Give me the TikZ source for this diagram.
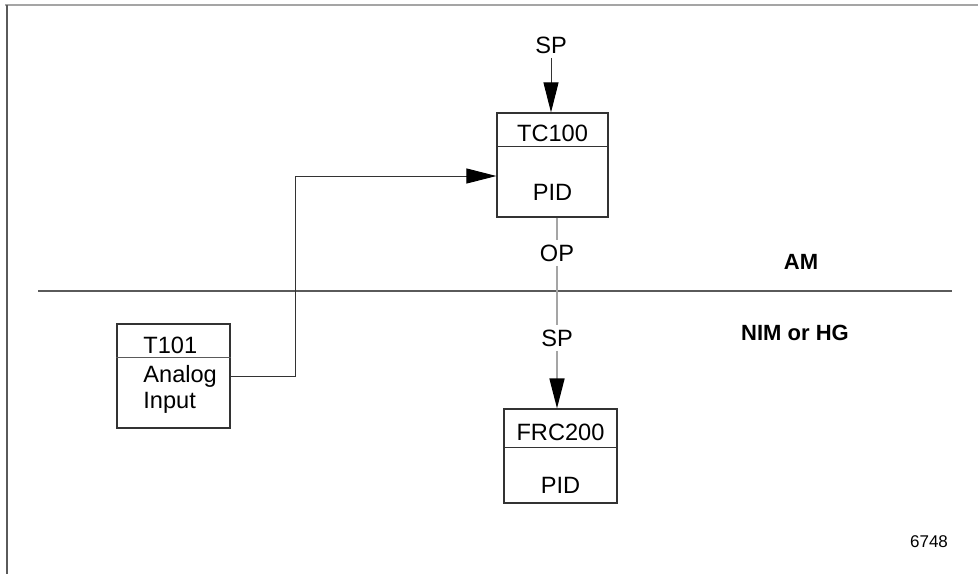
\documentclass[tikz,border=0pt]{standalone}
\usepackage{fontspec}
\setmainfont{Liberation Sans}
\usetikzlibrary{arrows.meta, positioning}
\definecolor{LN}{RGB}{51,51,51}
\definecolor{GL}{RGB}{165,165,165}
\definecolor{FR}{RGB}{90,90,90}

\begin{document}
\begin{tikzpicture}[x=0.5pt, y=-0.5pt,
  blk/.style={draw=LN, line width=0.6pt, inner sep=0pt},
  lbl/.style={font=\fontsize{11.8}{13}\selectfont, inner sep=2pt},
  zone/.style={font=\bfseries\fontsize{11}{13}\selectfont},
  tip/.style={-{Triangle[length=15pt, width=7.5pt, color=black]}},
  sig/.style={draw=LN, line width=0.5pt},
  opsig/.style={draw=GL, line width=0.8pt}
]
\useasboundingbox (0,0) rectangle (978,574);
% frame and AM / NIM split
\draw[GL, line width=0.8pt] (5,5) -- (978,5);
\draw[FR, line width=0.8pt] (7,5) -- (7,574);
\draw[FR, line width=0.6pt] (38,291) coordinate (sl) -- (952,291) coordinate (sr);

% blocks
\node[blk, minimum width=55.5pt, minimum height=52pt] (tc) at (552.5,165) {};
\draw[LN, line width=0.6pt] ([yshift=-17pt]tc.north west) -- ([yshift=-17pt]tc.north east);
\node[lbl] (tcname) at (552.5,133) {TC100};
\node[lbl] (tcalg) at (552.5,192) {PID};

\node[blk, minimum width=56.5pt, minimum height=47pt] (frc) at (560.5,456) {};
\draw[LN, line width=0.6pt] ([yshift=-19.5pt]frc.north west) -- ([yshift=-19.5pt]frc.north east);
\node[lbl] (frcname) at (560.5,432) {FRC200};
\node[lbl] (frcalg) at (560.5,485) {PID};

\node[blk, minimum width=56.5pt, minimum height=52pt] (ai) at (173.5,376) {};
\draw[FR, line width=0.6pt] ([yshift=-17pt]ai.north west) -- ([yshift=-17pt]ai.north east);
\node[lbl, anchor=west] (ainame) at (139,345) {T101};
\node[lbl, anchor=west, align=left] (aitext) at (139,389) {Analog\\Input};

% connections
\node[lbl] (sptop) at (551,45) {SP};
\draw[sig, tip] (sptop.south) -- (sptop.south |- tc.north);

\coordinate (bend) at (295,376);
\draw[sig, tip] (ai.east) -- (bend) |- ([yshift=-5.5pt]tc.west);

\node[lbl] (op) at (557,253) {OP};
\node[lbl] (spfrc) at (557,338) {SP};
\draw[opsig] (op |- tc.south) -- (op);
\draw[opsig] (op) -- (spfrc);
\draw[opsig, tip] (spfrc) -- (spfrc |- frc.north);

% zones
\node[zone] (am) at (801,262) {AM};
\node[zone] (nim) at (795,333) {NIM or HG};
\node[font=\fontsize{8.5}{10}\selectfont] (fig) at (929,542) {6748};
\end{tikzpicture}
\end{document}
